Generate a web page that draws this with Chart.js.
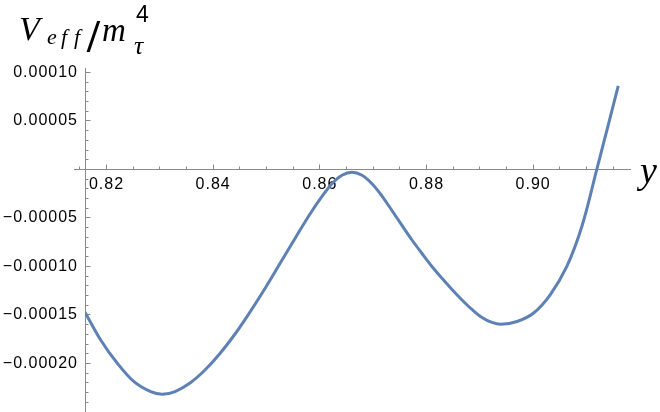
<!DOCTYPE html>
<html>
<head>
<meta charset="utf-8">
<script src="https://cdn.jsdelivr.net/npm/chart.js@4.4.0/dist/chart.umd.min.js"></script>
<style>
  html, body { margin: 0; padding: 0; background: #fff; }
</style>
</head>
<body>
<canvas id="veffChart" width="660" height="412"></canvas>
<script>
// --- Curve (horizontal variable is "y") ---
const yPoints = [0.81597, 0.81891, 0.82203, 0.82516, 0.82829, 0.83046, 0.83285, 0.83566,
  0.83847, 0.84128, 0.8441, 0.84691, 0.84972, 0.85253, 0.85535, 0.85816, 0.86041, 0.86228,
  0.86416, 0.86603, 0.86791, 0.86978, 0.87166, 0.87353, 0.87541, 0.87728, 0.87916, 0.88103,
  0.88291, 0.88478, 0.88666, 0.88853, 0.89041, 0.89228, 0.89397, 0.89697, 0.90003, 0.90316,
  0.90629, 0.90916, 0.91191, 0.91403, 0.91596];
const veffPoints = [-0.0001471, -0.0001758, -0.0001998, -0.0002188, -0.0002291, -0.0002318, -0.0002289, -0.0002201,
  -0.0002067, -0.0001897, -0.0001696, -0.0001469, -0.0001227, -0.0000969, -0.0000711, -0.0000459, -0.0000278, -0.0000147,
  -0.000006, -0.0000029, -0.000006, -0.0000147, -0.0000274, -0.0000423, -0.0000577, -0.0000727, -0.0000866, -0.0001,
  -0.0001122, -0.0001237, -0.0001345, -0.0001443, -0.0001526, -0.0001577, -0.0001596, -0.0001567, -0.0001482, -0.0001294,
  -0.0001002, -0.0000582, -0.0000005, 0.0000448, 0.0000861];

// --- Tick labels ---
const xTickValues = [0.82, 0.84, 0.86, 0.88, 0.90];
const yTickValues = [-0.0002, -0.00015, -0.0001, -0.00005, 0.00005, 0.0001];

const AXIS_GREY = "#8a8a8a";
const LINE_BLUE = "#5e81b5";
const TICK_FONT = { family: "'Liberation Sans', Arial, sans-serif", size: 16 };

function fmtY(v) {
  return (v < 0 ? "\u2212" : "") + Math.abs(v).toFixed(5);
}

function alignPx(p) {
  return Math.round(p - 0.5) + 0.5;
}

// --- Minor/major tick marks, drawn inward like Mathematica ---
const tickMarks = {
  id: "tickMarks",
  beforeDraw(chart) {
    chart.ctx.letterSpacing = "1px";
  },
  beforeDatasetsDraw(chart) {
    const { ctx, scales: { x, y } } = chart;
    const y0 = alignPx(y.getPixelForValue(0));
    const xLeft = alignPx(x.left);
    ctx.save();
    ctx.strokeStyle = AXIS_GREY;
    ctx.lineWidth = 1;
    ctx.beginPath();
    // horizontal axis sticks out a little left of the vertical one
    ctx.moveTo(x.getPixelForValue(0.8139), y0);
    ctx.lineTo(x.left, y0);
    for (let k = 163; k <= 183; k++) {
      const px = alignPx(x.getPixelForValue(k * 0.005));
      const len = k % 4 === 0 ? 5 : 3;
      ctx.moveTo(px, y0);
      ctx.lineTo(px, y0 - len);
    }
    for (let k = -24; k <= 10; k++) {
      if (k === 0) continue;
      const py = alignPx(y.getPixelForValue(k * 0.00001));
      const len = k % 5 === 0 ? 5 : 3;
      ctx.moveTo(xLeft, py);
      ctx.lineTo(xLeft + len, py);
    }
    ctx.stroke();
    ctx.restore();
  },
  afterDraw(chart) {
    const ctx = chart.ctx;
    ctx.save();
    ctx.letterSpacing = "0px";
    ctx.fillStyle = "#000";
    ctx.textAlign = "left";
    ctx.textBaseline = "alphabetic";
    const serif = "'Liberation Serif', 'Times New Roman', serif";
    // V_eff / m_tau^4
    ctx.font = "italic 34px " + serif;
    ctx.fillText("V", 19, 40);
    ctx.font = "italic 22px " + serif;
    ctx.fillText("e", 47, 44);
    ctx.fillText("f", 61, 44);
    ctx.fillText("f", 74, 44);
    ctx.font = "bold 46px " + serif;
    ctx.fillText("/", 87, 52);
    ctx.font = "italic 33px " + serif;
    ctx.fillText("m", 102, 41);
    ctx.font = "23px 'Liberation Sans', Arial, sans-serif";
    ctx.fillText("4", 136, 22);
    ctx.font = "italic 26px " + serif;
    ctx.fillText("\u03c4", 134, 54);
    // horizontal axis name
    ctx.font = "italic 38px " + serif;
    ctx.fillText("y", 640, 183);
    ctx.restore();
  }
};

new Chart(document.getElementById("veffChart"), {
  type: "line",
  data: {
    datasets: [{
      data: yPoints.map((v, i) => ({ x: v, y: veffPoints[i] })),
      borderColor: LINE_BLUE,
      borderWidth: 3,
      pointRadius: 0,
      tension: 0.35,
      fill: false
    }]
  },
  options: {
    responsive: false,
    animation: false,
    layout: { padding: { top: 68, right: 30, bottom: 0, left: 0 } },
    plugins: {
      legend: { display: false },
      tooltip: { enabled: false }
    },
    scales: {
      x: {
        type: "linear",
        min: 0.81597,
        max: 0.91816,
        position: { y: 0 },
        grid: { drawOnChartArea: false, drawTicks: false },
        border: { color: AXIS_GREY, width: 1 },
        ticks: {
          color: "#000",
          font: TICK_FONT,
          padding: 6,
          maxRotation: 0,
          autoSkip: false,
          callback: v => v.toFixed(2)
        },
        afterBuildTicks: s => { s.ticks = xTickValues.map(v => ({ value: v })); },
        afterFit: s => { s.paddingLeft = 0; s.paddingRight = 0; }
      },
      y: {
        type: "linear",
        min: -0.00025,
        max: 0.0001046,
        position: "left",
        grid: { drawOnChartArea: false, drawTicks: false },
        border: { color: AXIS_GREY, width: 1 },
        ticks: {
          color: "#000",
          font: TICK_FONT,
          padding: 7,
          autoSkip: false,
          callback: v => fmtY(v)
        },
        afterBuildTicks: s => { s.ticks = yTickValues.map(v => ({ value: v })); },
        afterFit: s => { s.width = 85; s.paddingTop = 0; s.paddingBottom = 0; }
      }
    }
  },
  plugins: [tickMarks]
});
</script>
</body>
</html>
